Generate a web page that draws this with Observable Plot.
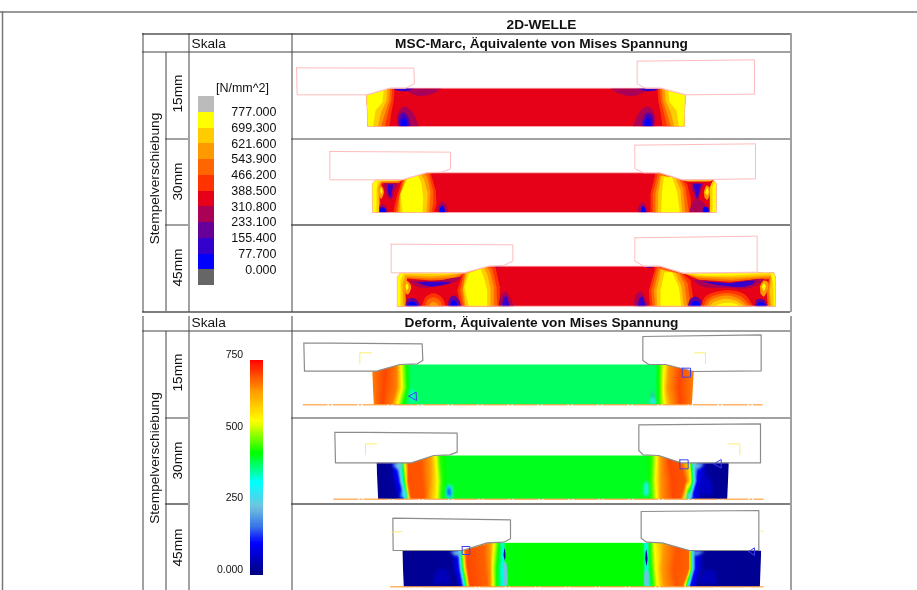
<!DOCTYPE html>
<html><head><meta charset="utf-8">
<script src="https://cdn.jsdelivr.net/npm/d3@7"></script>
<script src="https://cdn.jsdelivr.net/npm/@observablehq/plot@0.6"></script>
<style>html,body{margin:0;padding:0;background:#fff;overflow:hidden}#w{width:917px;height:590px;filter:blur(.4px)}svg{display:block}</style>
</head><body><div id="w"></div>
<script>
// ---------- legend values ----------
const marcThresholds=[0,77.7,155.4,233.1,310.8,388.5,466.2,543.9,621.6,699.3,777];
const marcColors=["#666666","#0000ff","#3300cc","#660099","#aa0055","#e60018","#ff3300","#ff6600","#ff9900","#ffcc00","#ffff00","#bbbbbb"];
const marcSwatches=[800,738,660,583,505,427,350,272,194,116,39,-1];
const marcLabels=["777.000","699.300","621.600","543.900","466.200","388.500","310.800","233.100","155.400","77.700","0.000"];
const deformStops=[0,110,170,238,320,424,535,640,750];
const deformColors=["#000080","#0000ff","#3c78e8","#70c4e0","#00ffff","#00ff00","#ffff00","#ff9900","#ff0000"];
const deformLabels=["750","500","250","0.000"];
// band values (one per legend class)
const Y=738,C=660,O=583,R1=505,R2=427,R=350,M=272,P=194,I=116,B=39;
// ---------- MSC-Marc panels (reference pixels, 3x, panel origin) ----------
const m1Outline=[[232,228],[228,133],[298,113],[1110,113],[1185,133],[1180,228]];
const m1Left=[
 [R2,[[232,228],[228,133],[298,113],[312,113],[310,150],[302,190],[297,228]]],
 [R1,[[232,228],[228,133],[298,113],[305,113],[302,150],[292,190],[283,228]]],
 [O,[[232,228],[228,133],[298,113],[296,150],[283,190],[272,228]]],
 [C,[[232,228],[228,133],[290,115],[288,150],[272,185],[262,228]]],
 [Y,[[232,228],[228,133],[280,118],[276,155],[255,180],[248,228]]]];
const m1Blobs=[
 [M,[[322,228],[320,200],[330,175],[345,168],[362,180],[375,200],[385,228]]],
 [P,[[325,228],[325,195],[340,185],[355,200],[360,228]]],
 [I,[[328,228],[330,203],[340,192],[350,205],[355,228]]],
 [B,[[332,228],[335,210],[342,205],[348,215],[350,228]]],
 [M,[[340,113],[360,128],[390,137],[430,128],[453,113]]],
 [I,[[305,113],[320,120],[345,122],[372,113]]]];
const m2Outline=[[246,486],[245,400],[256,388],[335,388],[408,367],[1108,367],[1175,388],[1268,388],[1278,400],[1277,486]];
const m2Shapes=[
 [R1,[[246,486],[245,400],[256,388],[335,388],[325,398],[275,398],[268,420],[270,486]]],
 [C,[[246,486],[245,400],[256,388],[335,388],[320,393],[272,393],[264,410],[266,486]]],
 [Y,[[246,486],[245,400],[256,388],[330,389],[300,391],[262,392],[258,420],[258,486]]],
 [R2,[[308,486],[318,440],[335,388],[408,367],[420,367],[436,420],[438,460],[430,486]]],
 [R1,[[316,486],[325,440],[338,388],[408,367],[415,372],[428,420],[428,460],[422,486]]],
 [O,[[322,486],[326,440],[342,386],[400,369],[410,380],[420,425],[416,486]]],
 [C,[[328,486],[328,440],[346,385],[390,372],[400,385],[412,430],[408,486]]],
 [Y,[[336,486],[330,430],[350,385],[382,375],[392,395],[398,440],[396,486]]],
 [R2,[[1080,486],[1080,430],[1095,367],[1108,367],[1178,388],[1190,400],[1200,440],[1203,486]]],
 [R1,[[1087,486],[1087,430],[1102,370],[1108,367],[1172,387],[1185,410],[1195,486]]],
 [O,[[1095,486],[1095,430],[1108,375],[1165,385],[1178,415],[1185,486]]],
 [C,[[1102,486],[1103,430],[1112,375],[1155,382],[1170,420],[1175,486]]],
 [Y,[[1112,486],[1114,430],[1120,380],[1145,380],[1160,425],[1168,486]]],
 [C,[[1258,486],[1258,410],[1268,388],[1278,400],[1277,486]]],
 [Y,[[1266,486],[1266,410],[1272,394],[1278,400],[1277,486]]],
 [C,[[1175,388],[1268,388],[1258,393],[1190,393]]]];
const m2Blobs=[
 [M,[[280,398],[283,420],[295,445],[305,445],[314,415],[325,398]]],
 [I,[[292,402],[293,425],[300,440],[304,425],[308,402]]],
 [O,[[264,420],[268,405],[276,410],[280,425],[272,445],[266,435]]],
 [Y,[[269,420],[272,412],[276,425],[272,432]]],
 [M,[[266,486],[268,465],[280,462],[290,475],[294,486]]],
 [B,[[268,486],[272,470],[282,472],[288,486]]],
 [M,[[440,486],[445,462],[458,453],[470,470],[474,486]]],
 [B,[[446,486],[450,470],[458,465],[464,486]]],
 [M,[[1042,486],[1045,465],[1058,455],[1068,470],[1072,486]]],
 [B,[[1050,486],[1055,468],[1062,470],[1066,486]]],
 [M,[[1197,486],[1200,470],[1215,445],[1232,450],[1250,470],[1256,486]]],
 [B,[[1236,486],[1240,470],[1252,470],[1255,486]]],
 [M,[[1200,398],[1210,435],[1220,455],[1230,425],[1240,398]]],
 [I,[[1208,400],[1215,430],[1220,445],[1226,425],[1232,400]]],
 [O,[[1240,425],[1248,405],[1256,410],[1258,430],[1250,448],[1242,440]]],
 [Y,[[1245,425],[1250,412],[1254,425],[1250,435]]]];
const m3Outline=[[320,767],[320,680],[330,667],[522,667],[595,647],[1108,647],[1178,668],[1450,667],[1455,680],[1455,767]];
const m3Shapes=[
 [R1,[[320,767],[320,680],[330,667],[522,667],[500,686],[420,690],[350,684],[345,720],[348,767]]],
 [O,[[320,767],[320,680],[330,667],[522,667],[490,680],[420,684],[350,680],[342,720],[344,767]]],
 [C,[[320,767],[320,680],[330,667],[522,667],[470,675],[420,678],[345,674],[336,700],[338,767]]],
 [Y,[[320,767],[320,680],[330,667],[510,667],[460,671],[340,669],[330,690],[330,767]]],
 [R2,[[510,767],[500,720],[517,668],[595,647],[615,650],[628,710],[628,767]]],
 [R1,[[518,767],[508,720],[520,668],[595,647],[605,655],[618,710],[620,767]]],
 [O,[[522,767],[515,720],[524,668],[590,649],[598,662],[610,710],[610,767]]],
 [C,[[526,767],[518,715],[528,668],[580,652],[590,670],[600,715],[600,767]]],
 [Y,[[535,767],[522,710],[535,668],[570,655],[580,680],[590,720],[590,767]]],
 [R2,[[1078,767],[1075,720],[1095,647],[1108,647],[1178,668],[1200,690],[1212,767]]],
 [R1,[[1086,767],[1082,720],[1100,650],[1108,650],[1172,668],[1192,700],[1200,767]]],
 [O,[[1094,767],[1090,720],[1106,655],[1165,668],[1182,700],[1190,767]]],
 [C,[[1100,767],[1098,720],[1112,658],[1155,668],[1172,705],[1180,767]]],
 [Y,[[1110,767],[1110,720],[1122,665],[1145,665],[1165,710],[1172,767]]],
 [R1,[[1455,767],[1455,680],[1450,667],[1178,668],[1225,688],[1320,694],[1400,686],[1436,686],[1428,720],[1432,767]]],
 [O,[[1455,767],[1455,680],[1450,667],[1178,668],[1222,682],[1320,688],[1400,682],[1440,680],[1434,720],[1438,767]]],
 [C,[[1455,767],[1455,680],[1450,667],[1178,668],[1215,677],[1320,681],[1400,677],[1444,675],[1438,720],[1442,767]]],
 [Y,[[1455,767],[1455,680],[1450,667],[1185,668],[1240,675],[1320,675],[1440,669],[1448,700],[1450,767]]]];
const m3Blobs=[
 [M,[[355,690],[385,710],[440,708],[490,696],[510,680],[440,692]]],
 [I,[[380,695],[420,708],[480,696],[430,694]]],
 [O,[[340,708],[345,690],[355,695],[362,710],[352,732],[342,725]]],
 [Y,[[345,708],[349,698],[354,710],[349,720]]],
 [P,[[345,767],[352,745],[375,745],[390,767]]],
 [B,[[350,767],[358,755],[372,755],[382,767]]],
 [R2,[[395,767],[405,740],[430,728],[455,742],[465,767]]],
 [R1,[[405,767],[412,748],[430,740],[450,752],[455,767]]],
 [O,[[415,767],[420,758],[430,754],[440,760],[444,767]]],
 [P,[[472,767],[478,742],[490,735],[505,748],[512,767]]],
 [B,[[480,767],[485,750],[495,752],[502,767]]],
 [M,[[625,767],[630,738],[645,722],[660,745],[670,767]]],
 [I,[[635,767],[640,742],[647,737],[654,755],[657,767]]],
 [M,[[1030,767],[1035,735],[1050,722],[1065,745],[1072,767]]],
 [I,[[1042,767],[1047,745],[1055,738],[1062,755],[1065,767]]],
 [I,[[600,648],[620,650],[638,647]]],
 [I,[[1060,647],[1075,652],[1095,647]]],
 [M,[[1205,686],[1235,708],[1300,712],[1380,712],[1420,686],[1320,698]]],
 [I,[[1230,692],[1300,706],[1365,708],[1395,692],[1320,698]]],
 [O,[[1408,708],[1420,690],[1432,695],[1432,715],[1420,738],[1410,728]]],
 [Y,[[1414,708],[1420,698],[1426,708],[1420,722]]],
 [P,[[1192,767],[1200,745],[1215,738],[1232,750],[1240,767]]],
 [B,[[1200,767],[1208,752],[1222,752],[1230,767]]],
 [R2,[[1232,767],[1245,738],[1300,720],[1360,730],[1388,767]]],
 [R1,[[1240,767],[1252,745],[1300,728],[1352,738],[1380,767]]],
 [O,[[1248,767],[1260,750],[1305,735],[1345,745],[1370,767]]],
 [C,[[1256,767],[1270,755],[1305,745],[1340,752],[1360,767]]],
 [Y,[[1275,767],[1290,760],[1310,757],[1335,760],[1345,767]]],
 [P,[[1392,767],[1398,748],[1415,745],[1426,755],[1430,767]]],
 [B,[[1398,767],[1405,756],[1418,756],[1426,767]]]];
const mPunches=[
 [[18,52],[370,53],[372,100],[345,113],[298,113],[232,133],[20,133]],
 [[1040,32],[1392,28],[1392,131],[1185,133],[1110,113],[1065,113],[1040,100]],
 [[118,303],[480,305],[480,355],[455,365],[408,367],[335,388],[118,388]],
 [[1033,284],[1395,280],[1395,385],[1175,388],[1108,367],[1060,367],[1033,355]],
 [[302,581],[667,583],[667,632],[640,645],[595,647],[522,667],[302,667]],
 [[1033,562],[1400,557],[1400,665],[1178,668],[1108,647],[1060,647],[1033,632]]];
// ---------- Deform panels ----------
// stops: x at top, x at mid height, x at bottom, stress
const d1Top=[[245,138],[258,137],[328,117],[1125,117],[1210,138]];
const d1Bottom=237;
const d1Stops=[[245,247,250,660],[285,280,275,700],[318,318,305,660],[332,335,322,530],[345,348,335,440],[360,360,350,385],[700,700,700,385],[1095,1095,1092,385],[1108,1108,1108,450],[1122,1118,1122,540],[1135,1130,1140,640],[1170,1165,1170,700],[1210,1207,1204,660]];
const d1Mask=[[[238,136],[245,138],[250,239],[238,239]],[[1210,136],[1218,136],[1218,239],[1204,239]]];
const d2Top=[[258,413],[365,412],[430,390],[1105,390],[1170,412],[1315,414]];
const d2Bottom=520;
const d2Stops=[[258,260,263,15],[300,305,320,25],[315,325,338,120],[328,335,345,300],[340,345,352,500],[352,352,362,690],[390,395,400,690],[420,420,415,640],[436,442,440,530],[448,455,452,440],[470,470,470,412],[700,700,700,412],[1065,1070,1070,412],[1085,1082,1085,450],[1098,1095,1098,535],[1110,1110,1110,640],[1135,1145,1150,700],[1170,1185,1170,690],[1195,1200,1182,560],[1202,1205,1190,420],[1208,1210,1195,300],[1225,1220,1205,110],[1250,1250,1240,25],[1315,1312,1310,15]];
const d2Mask=[[[250,408],[258,413],[263,522],[250,522]],[[1315,412],[1325,412],[1325,522],[1310,522]]];
const d3Top=[[335,676],[520,675],[600,652],[1110,652],[1200,675],[1412,676]];
const d3Bottom=783;
const d3Stops=[[336,338,340,15],[480,485,500,20],[500,505,515,120],[508,512,522,300],[515,520,530,500],[525,530,538,700],[580,585,590,680],[600,600,600,640],[612,606,608,530],[625,618,618,430],[636,636,640,320],[645,645,650,420],[720,720,720,424],[1045,1045,1045,424],[1055,1058,1058,420],[1066,1066,1070,310],[1078,1080,1085,420],[1090,1095,1100,530],[1120,1115,1120,640],[1160,1150,1160,690],[1195,1195,1175,680],[1200,1200,1185,500],[1205,1205,1190,300],[1215,1215,1200,110],[1240,1240,1225,20],[1412,1412,1408,15]];
const d3Mask=[[[325,672],[335,676],[340,785],[325,785]],[[1405,645],[1422,645],[1422,785],[1408,785],[1412,676],[1405,676]]];
const dBlobs=[
 [340,[[356,205],[362,192],[368,192],[370,228],[362,234]]],
 [200,[[1083,215],[1086,195],[1090,215],[1088,228]]],
 [290,[[1078,234],[1082,218],[1094,220],[1096,236]]],
 [300,[[466,518],[470,480],[484,480],[486,518]]],
 [120,[[472,505],[474,482],[480,500],[477,515]]],
 [300,[[1060,510],[1063,470],[1072,470],[1074,510]]],
 [280,[[330,515],[340,490],[352,515]]],
 [260,[[1185,518],[1195,500],[1208,518]]],
 [238,[[306,416],[335,414],[332,430],[318,430]]],
 [238,[[1208,416],[1240,414],[1222,432]]],
 [238,[[480,678],[510,678],[505,690],[490,688]]],
 [238,[[1205,680],[1240,678],[1215,690]]],
 [60,[[1225,505],[1240,450],[1262,470],[1265,510]]],
 [50,[[425,775],[445,730],[470,735],[480,775]]],
 [50,[[1225,775],[1245,735],[1270,735],[1280,775]]]];
const dStreaks=[
 [30,[[639,690],[642,668],[645,690],[643,705]]],
 [30,[[1064,700],[1067,672],[1071,700],[1068,722]]],
 [240,[[1062,780],[1064,735],[1072,735],[1074,780]]],
 [240,[[640,780],[640,710],[646,710],[652,780]]]];
const dPunches=[
 [[40,52],[395,55],[397,105],[380,115],[328,117],[258,137],[42,137]],
 [[1057,33],[1412,28],[1412,136],[1210,138],[1125,117],[1075,117],[1057,105]],
 [[133,320],[500,323],[500,380],[478,388],[430,390],[362,412],[135,412]],
 [[1045,298],[1410,295],[1410,412],[1172,412],[1105,390],[1058,388],[1045,375]],
 [[307,578],[660,583],[660,640],[640,650],[590,652],[515,675],[308,675]],
 [[1052,558],[1405,555],[1405,675],[1197,675],[1115,652],[1068,650],[1052,638]]];
const dAxes=[[38,1415,238],[130,1418,521],[300,1418,784]];
const dBrackets=[[[208,115],[208,82],[243,82]],[[1213,82],[1245,82],[1245,115]],[[225,388],[225,355],[258,355]],[[1315,355],[1348,355],[1348,388]],[[307,620],[333,618]],[[1412,617],[1418,617]]];
const dMarkers=[
 [[1175,128],[1200,128],[1200,155],[1175,155],[1175,128]],[[355,212],[377,200],[378,225],[355,212]],
 [[1168,403],[1193,403],[1193,430],[1168,430],[1168,403]],[[1270,415],[1292,402],[1292,428],[1270,415]],
 [[515,663],[538,663],[538,687],[515,687],[515,663]],[[1375,678],[1392,667],[1392,690],[1375,678]]];
// ---------- table ----------
const font="Liberation Sans, Arial, sans-serif";
const GX=d=>d[0],GY=d=>d[1];
const mz=p=>p.map(([x,y])=>[290+x/3,50+y/3]);
const mirror=(p,a)=>p.map(([x,y])=>[a-x,y]);
const dz=p=>p.map(([x,y])=>[290+x/3,325+y/3]);
const line=(pts,o)=>Plot.line(pts,{x:GX,y:GY,...o});
const hr=(y,a,b,stroke="#444",w=1)=>Plot.ruleY([y],{x1:a,x2:b,stroke,strokeWidth:w});
const vr=(x,a,b,stroke="#444",w=1)=>Plot.ruleX([x],{y1:a,y2:b,stroke,strokeWidth:w});
const txt=(s,x,y,o={})=>Plot.text([s],{x:()=>x,y:()=>y,text:d=>d,fontFamily:font,fill:"#111",fontSize:12.5,...o});
const band=([v,p],z,extra={})=>line(z(p),{fill:()=>v,stroke:"none",...extra});
const blob=(e,z)=>band(e,z,{curve:"catmull-rom"});
const SPLIT=316;
const bigFont=13.7;

// ---------- top plot ----------
const topGrid=[
 hr(11.5,0,917,"#777",1.5),vr(2,11,SPLIT,"#777",1.5),
 hr(33.5,142,790,"#555",1.5),hr(51.5,142,790),hr(138.5,165,188),hr(138.5,291,790),hr(224.5,165,188),hr(224.5,291,790,"#555",1.5),hr(311.5,142,790,"#555",1.5),
 vr(142.5,33,312),vr(165.5,52,311),vr(188.5,33,312),vr(291.5,33,312),vr(790.5,33,312)];
const swatchTop=96,swatchH=15.75;
const plotTop=Plot.plot({width:917,height:SPLIT,margin:0,x:{domain:[0,917],range:[0,917],axis:null},y:{domain:[0,SPLIT],range:[0,SPLIT],axis:null},
 color:{type:"threshold",domain:marcThresholds,range:marcColors},style:{background:"#fff",fontFamily:font},
 marks:[
  line(mz(m1Outline),{fill:()=>350,stroke:"none"}),
  ...m1Left.map(e=>band(e,mz)),
  ...m1Left.map(([v,p])=>band([v,mirror(p,1413)],mz)),
  ...m1Blobs.map(e=>blob(e,mz)),
  ...m1Blobs.map(([v,p])=>blob([v,mirror(p,1413)],mz)),
  line(mz(m2Outline),{fill:()=>350,stroke:"none"}),
  ...m2Shapes.map(e=>band(e,mz)),
  ...m2Blobs.map(e=>blob(e,mz)),
  line(mz(m3Outline),{fill:()=>350,stroke:"none"}),
  ...m3Shapes.map(e=>band(e,mz)),
  ...m3Blobs.map(e=>blob(e,mz)),
  ...mPunches.map(p=>line(mz(p),{fill:"white",stroke:"none"})),
  ...[m1Outline,m2Outline,m3Outline].map(p=>line(mz([...p,p[0]]),{stroke:"#ffb4b4",strokeWidth:.7})),
  ...mPunches.map(p=>line(mz([...p,p[0]]),{stroke:"#ffbcbc",strokeWidth:1})),
  Plot.rect(marcSwatches,{x1:()=>198,x2:()=>214,y1:(d,i)=>swatchTop+i*swatchH,y2:(d,i)=>swatchTop+(i+1)*swatchH,fill:d=>d,shapeRendering:"crispEdges"}),
  ...marcLabels.map((s,i)=>txt(s,276,111.7+i*swatchH,{textAnchor:"end"})),
  txt("[N/mm^2]",242,87,{}),
  ...topGrid,
  txt("2D-WELLE",541,24,{fontWeight:"bold",fontSize:bigFont}),
  txt("Skala",191,43,{textAnchor:"start",fontSize:bigFont}),
  txt("MSC-Marc, Äquivalente von Mises Spannung",541,43,{fontWeight:"bold",fontSize:bigFont}),
  txt("Stempelverschiebung",154,178,{rotate:-90,fontSize:bigFont}),
  txt("15mm",177,93,{rotate:-90,fontSize:bigFont}),txt("30mm",177,181,{rotate:-90,fontSize:bigFont}),txt("45mm",177,267,{rotate:-90,fontSize:bigFont})
 ]});

// ---------- bottom plot ----------
function samples(topLine,bottom,stops){
  const yt=d3.scaleLinear(topLine.map(GX),topLine.map(GY));
  const shoulder=d3.max(topLine,GY);
  const out=[];
  for(const [a,b,c,v] of stops){
    out.push({x:a,y:yt(a),v},{x:b,y:(shoulder+bottom)/2,v},{x:c,y:bottom,v});
  }
  return out.map(d=>({x:290+d.x/3,y:325+d.y/3,v:d.v}));
}
function raster(topLine,bottom,stops){
  const s=samples(topLine,bottom,stops);
  return Plot.raster(s,{x:"x",y:"y",fill:"v",interpolate:"barycentric",x1:d3.min(s,d=>d.x),x2:d3.max(s,d=>d.x),y1:d3.min(s,d=>d.y),y2:d3.max(s,d=>d.y)});
}
const legendValues=d3.range(0,750,3.75);
const botGrid=[vr(2,SPLIT,590,"#777",1.5),hr(330.5,142,790),hr(417.5,165,188),hr(417.5,291,790),hr(503.5,165,188,"#555",1.5),hr(503.5,291,790,"#555",1.5),
 vr(142.5,312,590),vr(165.5,331,590),vr(188.5,312,590),vr(291.5,312,590),vr(790.5,312,590)];
const plotBot=Plot.plot({width:917,height:590-SPLIT,margin:0,x:{domain:[0,917],range:[0,917],axis:null},y:{domain:[SPLIT,590],range:[0,590-SPLIT],axis:null},
 color:{type:"linear",domain:deformStops,range:deformColors},style:{background:"#fff",fontFamily:font},
 marks:[
  raster(d1Top,d1Bottom,d1Stops),raster(d2Top,d2Bottom,d2Stops),raster(d3Top,d3Bottom,d3Stops),
  ...[...d1Mask,...d2Mask,...d3Mask].map(p=>line(dz(p),{fill:"white",stroke:"none"})),
  ...dBlobs.map(([v,p])=>line(dz(p),{fill:()=>v,stroke:"none",curve:"catmull-rom",imageFilter:"blur(1.5px)"})),
  ...dStreaks.map(([v,p])=>line(dz(p),{fill:()=>v,stroke:"none",curve:"catmull-rom",imageFilter:"blur(.6px)"})),
  ...dAxes.map(([a,b,y])=>line(dz([[a,y],[b,y]]),{stroke:"#ff8c1a",strokeWidth:1,strokeDasharray:"24 2 2 2"})),
  ...dPunches.map(p=>line(dz(p),{fill:"white",stroke:"none"})),
  ...dPunches.map(p=>line(dz([...p,p[0]]),{stroke:"#8c8c8c",strokeWidth:1.2})),
  ...dBrackets.map(p=>line(dz(p),{stroke:"#f5f06a",strokeWidth:1})),
  ...dMarkers.map(p=>line(dz(p),{stroke:"#4040f0",strokeWidth:1})),
  Plot.rect(legendValues,{x1:()=>249.5,x2:()=>262.5,y1:d=>575-(d+3.75)/750*215,y2:d=>575-d/750*215,fill:d=>d,shapeRendering:"crispEdges"}),
  ...deformLabels.map((s,i)=>txt(s,242.7,[354.3,426,497.3,569.3][i],{textAnchor:"end",fontSize:10.5})),
  ...botGrid,
  txt("Skala",191,322,{textAnchor:"start",fontSize:bigFont}),
  txt("Deform, Äquivalente von Mises Spannung",541,322,{fontWeight:"bold",fontSize:bigFont}),
  txt("Stempelverschiebung",154,457.5,{rotate:-90,fontSize:bigFont}),
  txt("15mm",177,372,{rotate:-90,fontSize:bigFont}),txt("30mm",177,460,{rotate:-90,fontSize:bigFont}),txt("45mm",177,547,{rotate:-90,fontSize:bigFont})
 ]});
document.getElementById("w").append(plotTop,plotBot);
</script></body></html>
